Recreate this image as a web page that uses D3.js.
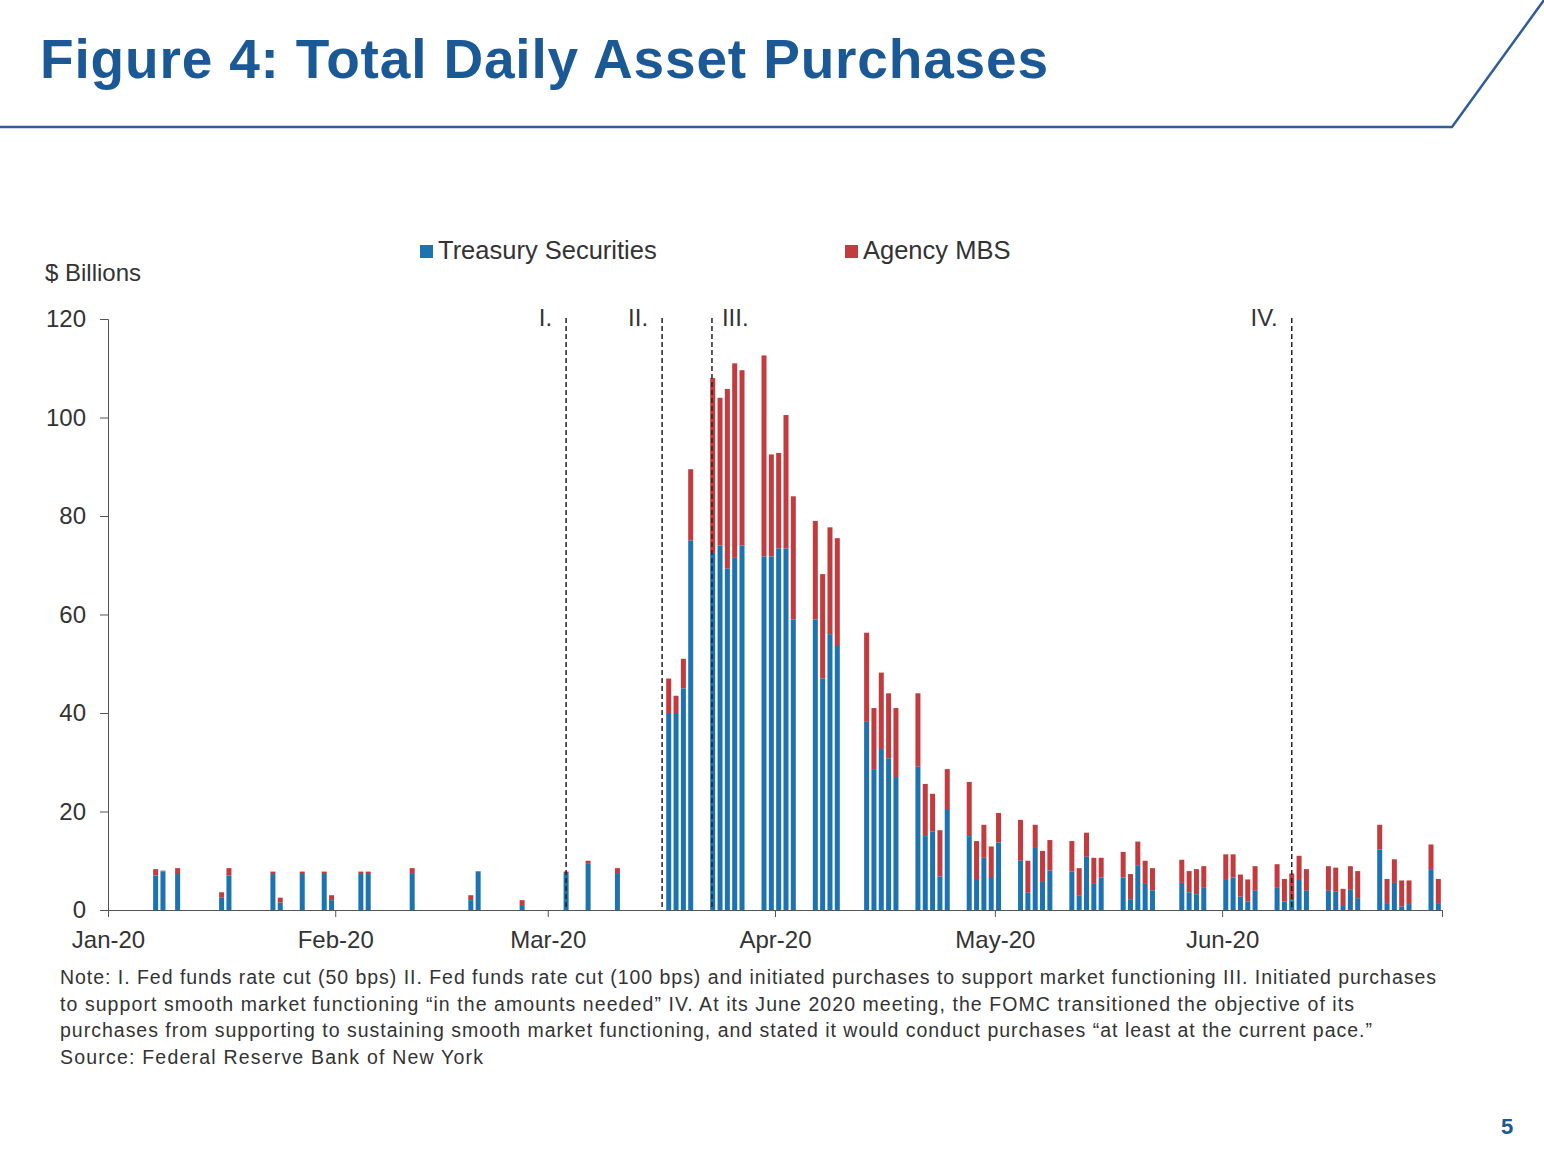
<!DOCTYPE html>
<html><head><meta charset="utf-8">
<script src="https://cdn.jsdelivr.net/npm/d3@7"></script>
<style>body{margin:0;background:#fff}svg{font-family:"Liberation Sans",Arial,sans-serif}</style>
</head><body>
<script>
// day offsets from Jan 1 2020
const days = [6,7,9,15,16,22,23,26,29,30,34,35,41,49,50,56,62,65,69,
 76,77,78,79,82,83,84,85,86,89,90,91,92,93,96,97,98,99,
 103,104,105,106,107,110,111,112,113,114,117,118,119,120,121,124,125,126,127,128,
 131,132,133,134,135,138,139,140,141,142,146,147,148,149,152,153,154,155,156,
 159,160,161,162,163,166,167,168,169,170,173,174,175,176,177,180,181];
const treasury = [7,7.8,7.3,2.5,7,7.3,1.5,7.3,7.3,2,7.3,7.3,7.5,2,7.8,1,7.5,9.5,7.5,
 40,40,45,75,72.5,74,69.3,71.5,74,71.8,71.8,73.4,73.4,59,59,47,56,53.6,
 38.2,28.6,32.7,30.8,27,29.1,15,15.9,6.8,20.5,15,6.3,10.6,6.7,13.7,10,3.5,12.6,5.7,8,
 7.8,3,10.8,5.3,6.6,6.6,2.2,9.1,5.3,4,5.5,3.6,3.2,4.5,6.1,6.6,2.7,1.7,3.9,
 4.5,1.7,2,6.1,3.9,3.9,3.7,1,4.1,2.4,12.3,1.4,5.5,0.7,1.2,8.3,1.4];
const total = [8.3,8,8.5,3.6,8.5,7.8,2.5,7.8,7.8,3,7.8,7.8,8.5,3,7.9,2,7.8,10,8.5,
 47,43.5,51,89.5,108,104,105.8,111,109.6,112.6,92.5,92.8,100.5,84,79,68.2,77.7,75.5,
 56.3,41,48.2,44,41,44,25.6,23.6,16.2,28.6,26,14,17.3,12.9,19.7,18.3,10,17.3,12,14.2,
 14,8.5,15.7,10.6,10.6,11.8,7.3,13.9,10,8.5,10.2,7.9,8.3,8.9,11.3,11.3,7.2,6.2,8.9,
 9.3,6.3,7.4,11,8.3,8.9,8.6,4.3,8.9,7.9,17.3,6.3,10.3,6,6,13.3,6.3];
const yTicks = [0,20,40,60,80,100,120];
const monthTicks = [0,31,60,91,121,152];
const monthLabels = ["Jan-20","Feb-20","Mar-20","Apr-20","May-20","Jun-20"];
const eventDays = [62.5,75.6,82.4,161.5];
const eventLabels = ["I.","II.","III.","IV."];
const seriesNames = ["Treasury Securities","Agency MBS"];
const colors = ["#1d72b0","#c23b3e"];

const svg = d3.select("body").append("svg").attr("width",1544).attr("height",1158);
svg.append("text").attr("x",40).attr("y",78).attr("font-size",55).attr("font-weight","bold")
 .attr("fill","#1b5896").attr("textLength",1008).text("Figure 4: Total Daily Asset Purchases");
svg.append("path").attr("d","M0,127 L1452,127 L1544,0").attr("fill","none").attr("stroke","#2f5d99").attr("stroke-width",2.5);

const x = d3.scaleLinear().domain([0,182]).range([108,1442]);
const y = d3.scaleLinear().domain([0,120]).range([910,319]);
const bw = 5;

const ya = svg.append("g").attr("transform","translate(108,0)")
 .call(d3.axisLeft(y).tickValues(yTicks).tickSize(8).tickPadding(14));
ya.selectAll("text").attr("font-size",24).attr("fill","#333").attr("font-family","Liberation Sans, Arial");
ya.select(".domain").attr("stroke","#555");
ya.selectAll(".tick line").attr("stroke","#555");

const xa = svg.append("g").attr("transform","translate(0,910)")
 .call(d3.axisBottom(x).tickValues(monthTicks.concat([182])).tickSize(7).tickFormat((d,i)=>monthLabels[i]||"").tickSizeOuter(0));
xa.selectAll("text").attr("font-size",24).attr("fill","#333").attr("dy","1.15em").attr("font-family","Liberation Sans, Arial");
xa.select(".domain").attr("stroke","#555");
xa.selectAll(".tick line").attr("stroke","#555");

const data = days.map((d,i)=>({d, t:treasury[i], tot:total[i]}));
svg.append("g").selectAll("rect").data(data).join("rect")
 .attr("x",d=>x(d.d+0.5)-bw/2).attr("width",bw)
 .attr("y",d=>y(d.tot)).attr("height",d=>y(d.t)-y(d.tot)).attr("fill",colors[1]);
svg.append("g").selectAll("rect").data(data).join("rect")
 .attr("x",d=>x(d.d+0.5)-bw/2).attr("width",bw)
 .attr("y",d=>y(d.t)).attr("height",d=>y(0)-y(d.t)).attr("fill",colors[0]);

eventDays.forEach((e,i)=>{
 svg.append("line").attr("x1",x(e)).attr("x2",x(e)).attr("y1",318).attr("y2",910)
  .attr("stroke","#222").attr("stroke-width",1.5).attr("stroke-dasharray","5,3");
 const left = i===2;
 svg.append("text").attr("x",left?x(e)+10:x(e)-14).attr("y",326).attr("font-size",24)
  .attr("text-anchor",left?"start":"end").attr("fill","#333").text(eventLabels[i]);
});

[[420,0],[845,1]].forEach(([lx,i])=>{
 svg.append("rect").attr("x",lx).attr("y",245).attr("width",13).attr("height",13).attr("fill",colors[i]);
 svg.append("text").attr("x",lx+18).attr("y",259).attr("font-size",25.5).attr("fill","#333").text(seriesNames[i]);
});
svg.append("text").attr("x",45).attr("y",281).attr("font-size",24).attr("fill","#333").text("$ Billions");

const notes = ["Note: I. Fed funds rate cut (50 bps) II. Fed funds rate cut (100 bps) and initiated purchases to support market functioning III. Initiated purchases",
"to support smooth market functioning \u201cin the amounts needed\u201d IV. At its June 2020 meeting, the FOMC transitioned the objective of its",
"purchases from supporting to sustaining smooth market functioning, and stated it would conduct purchases \u201cat least at the current pace.\u201d",
"Source: Federal Reserve Bank of New York"];
const noteLen = [1376,1294,1312,423];
notes.forEach((t,i)=>svg.append("text").attr("x",60).attr("y",984+i*26.5).attr("font-size",19.5).attr("fill","#333")
 .attr("textLength",noteLen[i]).text(t));

svg.append("text").attr("x",1507).attr("y",1134).attr("font-size",22).attr("font-weight","bold").attr("fill","#1b5896").attr("text-anchor","middle").text("5");
</script>
</body></html>
